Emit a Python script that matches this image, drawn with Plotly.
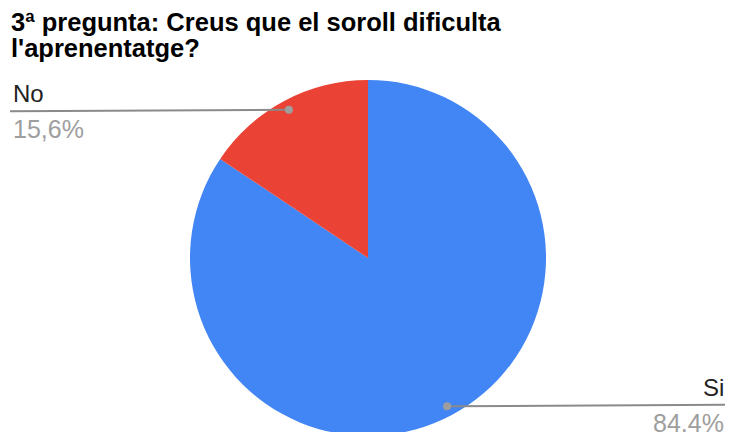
import math
import plotly.graph_objects as go

labels = ["Si", "No"]
values = [84.4, 15.6]
pct_text = ["84,4%", "15,6%"]
colors = ["#4285F4", "#EA4335"]
title_lines = ["3ª pregunta: Creus que el soroll dificulta", "l'aprenentatge?"]

OFF = 0           # page body margin removed via post_script
W, H = 729, 440   # figure size (page is clipped to 729x432 viewport)
cx, cy, R = 368, 258, 178  # pie center / radius in viewport pixels

def px(x):
    return (x - OFF) / W

def py(y):
    return 1 - (y - OFF) / H

fig = go.Figure()
fig.add_trace(go.Pie(
    labels=labels, values=values, sort=False, direction="clockwise", rotation=0,
    marker=dict(colors=colors, line=dict(width=0)),
    textinfo="none", hoverinfo="label+percent", showlegend=False,
    domain=dict(x=[px(cx - R), px(cx + R)], y=[py(cy + R), py(cy - R)]),
))

shapes = []
annotations = []
total = sum(values)
cum = 0
for lab, v, pt in zip(labels, values, pct_text):
    mid = (cum + v / 2) / total * 2 * math.pi
    cum += v
    dx = math.sin(mid)
    dy = -math.cos(mid)
    r2 = R * 0.944
    x0 = cx + dx * r2
    y0 = cy + dy * r2
    if dx < 0:
        xe = 10
        ye = y0 + 1.5
        xa, anc = 11, "left"
    else:
        xe = 725
        ye = y0 - 1.5
        xa, anc = 726, "right"
    shapes.append(dict(type="line", xref="paper", yref="paper",
                       x0=px(x0), y0=py(y0), x1=px(xe), y1=py(ye),
                       line=dict(color="#8a8a8a", width=2)))
    shapes.append(dict(type="circle", xref="paper", yref="paper",
                       x0=px(x0 - 4), x1=px(x0 + 4), y0=py(y0 - 4), y1=py(y0 + 4),
                       fillcolor="#9e9e9e", line=dict(width=0)))
    annotations.append(dict(text=lab, xref="paper", yref="paper", x=px(xa), y=py(ye - 2),
                            xanchor=anc, yanchor="bottom", showarrow=False,
                            font=dict(family="Liberation Sans, Arial", size=24, color="#222222")))
    annotations.append(dict(text=pt, xref="paper", yref="paper", x=px(xa), y=py(ye + 2),
                            xanchor=anc, yanchor="top", showarrow=False,
                            font=dict(family="Liberation Sans, Arial", size=25, color="#9e9e9e")))

for i, t in enumerate(title_lines):
    annotations.append(dict(text="<b>" + t + "</b>", xref="paper", yref="paper",
                            x=px(9), y=py(6 + i * 26), xanchor="left", yanchor="top",
                            showarrow=False,
                            font=dict(family="Liberation Sans, Arial", size=25.5, color="#000000")))

fig.update_layout(width=W, height=H, margin=dict(l=0, r=0, t=0, b=0),
                  paper_bgcolor="white", plot_bgcolor="white",
                  shapes=shapes, annotations=annotations)
fig.write_html("out.html", config={"displayModeBar": False},
               post_script="document.body.style.margin='0';document.body.style.overflow='hidden';"
                           "document.documentElement.style.overflow='hidden';")
